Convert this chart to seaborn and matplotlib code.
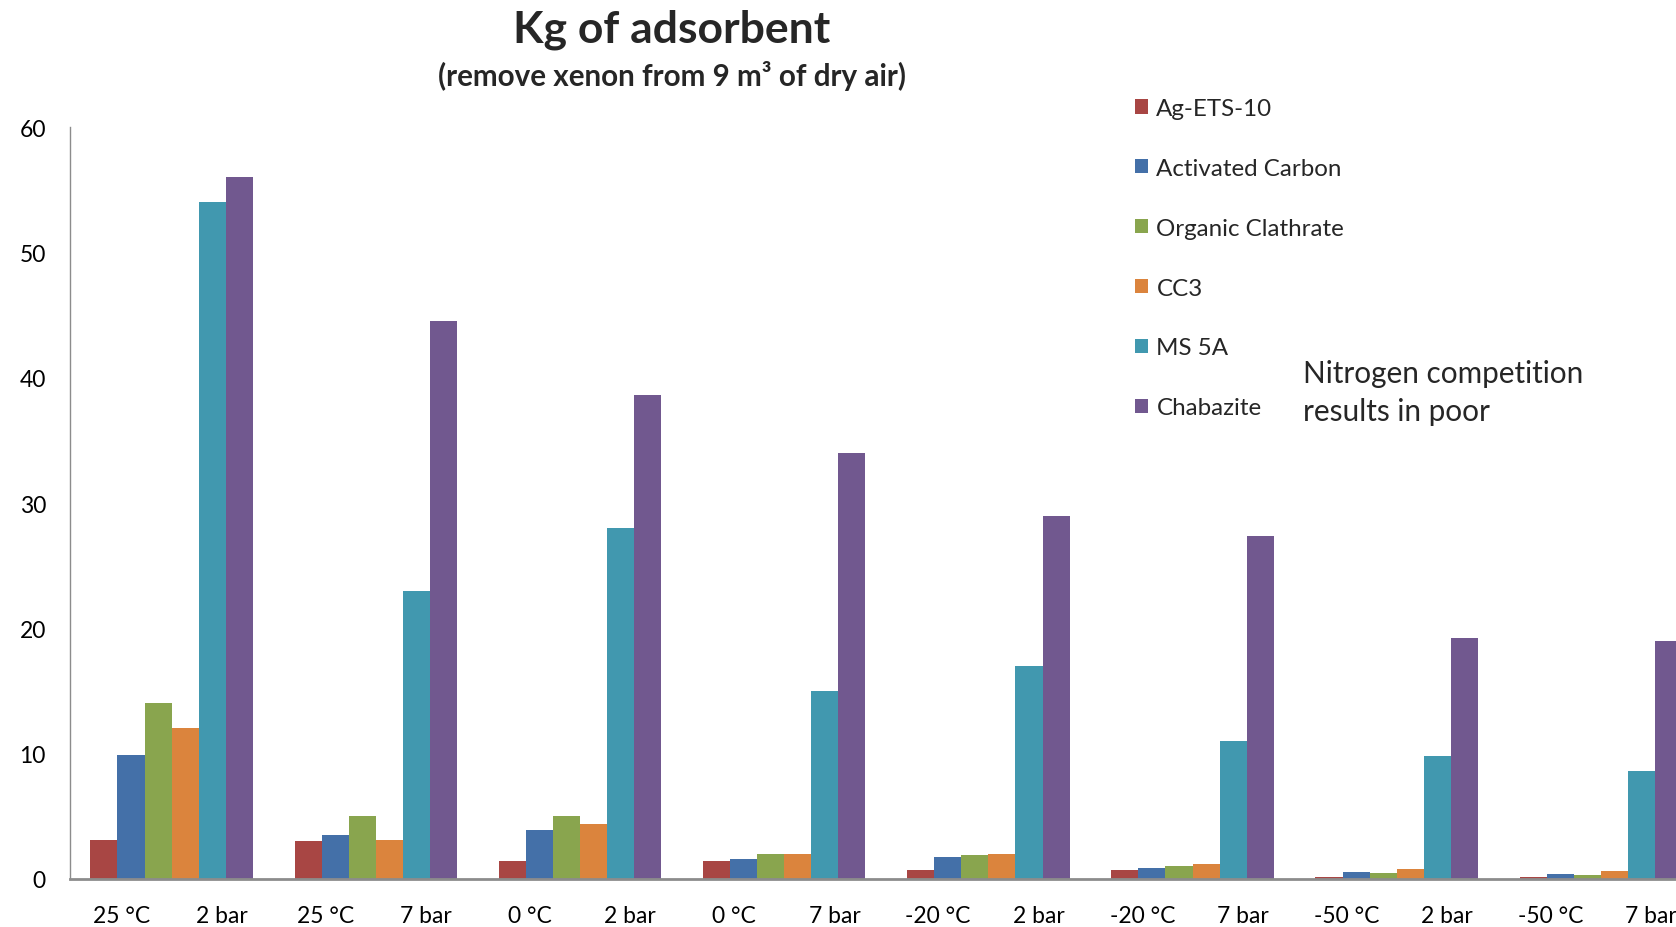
import numpy as np
import pandas as pd
import matplotlib
matplotlib.use("Agg")
import matplotlib.pyplot as plt
from matplotlib.patches import Patch
import seaborn as sns

# Conditions: temperature and pressure for each group of bars
temperatures = ["25 °C", "25 °C", "0 °C", "0 °C", "-20 °C", "-20 °C", "-50 °C", "-50 °C"]
pressures = ["2 bar", "7 bar", "2 bar", "7 bar", "2 bar", "7 bar", "2 bar", "7 bar"]

adsorbents = ["Ag-ETS-10", "Activated Carbon", "Organic Clathrate", "CC3", "MS 5A", "Chabazite"]

# Kg of adsorbent needed per condition
ag_ets_10 = [3.1, 3.0, 1.4, 1.4, 0.7, 0.7, 0.15, 0.15]
activated_carbon = [9.9, 3.5, 3.9, 1.6, 1.7, 0.85, 0.5, 0.35]
organic_clathrate = [14.0, 5.0, 5.0, 2.0, 1.9, 1.0, 0.45, 0.3]
cc3 = [12.0, 3.1, 4.4, 2.0, 2.0, 1.2, 0.8, 0.65]
ms_5a = [54.0, 23.0, 28.0, 15.0, 17.0, 11.0, 9.8, 8.6]
chabazite = [56.0, 44.5, 38.6, 34.0, 29.0, 27.4, 19.2, 19.0]

colors = ["#A84644", "#4470A8", "#89A54E", "#DB843D", "#4198AF", "#71588F"]

series = [ag_ets_10, activated_carbon, organic_clathrate, cc3, ms_5a, chabazite]
conditions = [f"{t} {p}" for t, p in zip(temperatures, pressures)]
rows = []
for name, vals in zip(adsorbents, series):
    for cond, v in zip(conditions, vals):
        rows.append({"condition": cond, "adsorbent": name, "kg": v})
df = pd.DataFrame(rows)

sns.set_theme(style="white")
plt.rcParams["font.family"] = ["Lato", "DejaVu Sans"]

fig = plt.figure(figsize=(16.76, 9.28), dpi=100)
ax = fig.add_axes([0.0415, 0.052, 0.9746, 0.8097])

sns.barplot(data=df, x="condition", y="kg", hue="adsorbent", order=conditions,
            hue_order=adsorbents, palette=colors, width=0.796, dodge=True,
            linewidth=0, saturation=1, errorbar=None, legend=False, ax=ax)

ax.set_xlim(-0.5, len(conditions) - 0.5)
ax.set_ylim(0, 60)
ax.set_yticks(np.arange(0, 61, 10))
ax.tick_params(axis="y", labelsize=16.5, length=0, pad=17, colors="#000000")

# two labels under each group: temperature on the left, pressure on the right
pos = np.arange(len(conditions))
ticks = np.concatenate([pos - 0.246, pos + 0.246])
labels = temperatures + pressures
ax.set_xticks(ticks)
ax.set_xticklabels(labels)
ax.tick_params(axis="x", labelsize=16.5, length=0, pad=19, colors="#000000")
ax.set_xlabel("")
ax.set_ylabel("")

for side in ["top", "right"]:
    ax.spines[side].set_visible(False)
ax.spines["left"].set_color("#8C8C8C")
ax.spines["left"].set_linewidth(1.0)
ax.spines["bottom"].set_color("#8C8C8C")
ax.spines["bottom"].set_linewidth(2.0)

fig.text(0.401, 0.99, "Kg of adsorbent", ha="center", va="top",
         fontsize=32, fontweight="bold")
fig.text(0.401, 0.934, "(remove xenon from 9 m³ of dry air)", ha="center", va="top",
         fontsize=21.3, fontweight="bold")

handles = [Patch(facecolor=c, edgecolor="none") for c in colors]
fig.legend(handles, adsorbents, loc="upper left", bbox_to_anchor=(0.677, 0.8935),
           frameon=False, fontsize=17.4, handlelength=0.55, handleheight=0.55,
           handletextpad=0.35, labelspacing=1.61, borderpad=0, borderaxespad=0)

fig.text(0.7775, 0.612, "Nitrogen competition\nresults in poor", ha="left", va="top",
         fontsize=21.4, linespacing=1.42)

fig.savefig("out.png", dpi=100)
